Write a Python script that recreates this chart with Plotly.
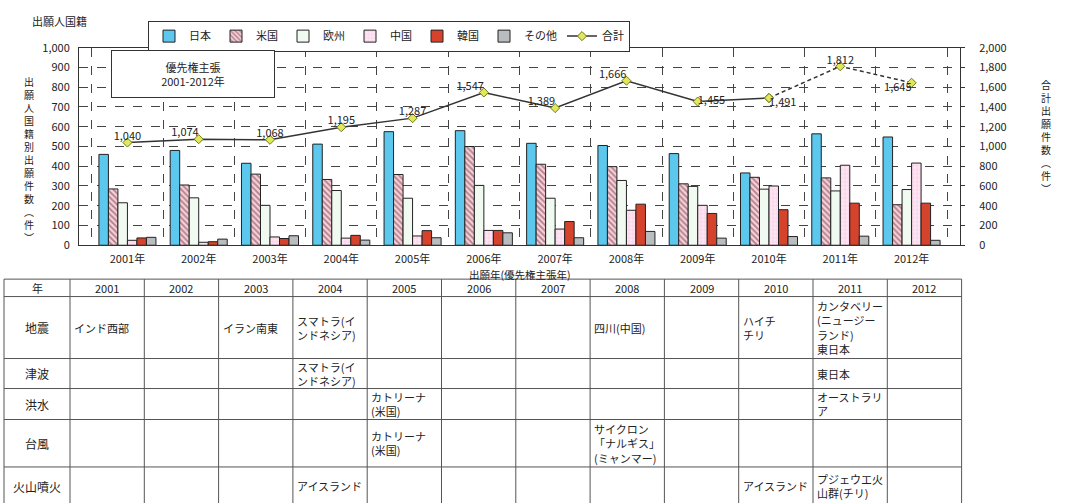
import plotly.graph_objects as go

W, H = 1077, 503
FONT = "Noto Sans CJK JP"

years = ["2001年", "2002年", "2003年", "2004年", "2005年", "2006年",
         "2007年", "2008年", "2009年", "2010年", "2011年", "2012年"]
japan = [460, 480, 415, 512, 575, 580, 516, 505, 464, 366, 564, 548]
usa = [285, 305, 360, 333, 358, 500, 410, 398, 311, 344, 341, 205]
europe = [215, 240, 202, 277, 238, 303, 238, 328, 298, 284, 275, 282]
china = [25, 15, 42, 36, 47, 75, 82, 177, 202, 300, 405, 416]
korea = [37, 18, 34, 50, 74, 75, 120, 208, 161, 180, 213, 213]
other = [40, 31, 48, 26, 38, 63, 38, 70, 36, 44, 46, 25]
total = [1040, 1074, 1068, 1195, 1287, 1547, 1389, 1666, 1455, 1491, 1812, 1645]
total_pos = ["top center", "top left", "top center", "top center", "top center", "top left",
             "top left", "top left", "middle right", "bottom right", "top center", "bottom left"]

table_years = ["2001", "2002", "2003", "2004", "2005", "2006",
               "2007", "2008", "2009", "2010", "2011", "2012"]
table_rows = ["地震", "津波", "洪水", "台風", "火山噴火"]
table_events = {
    "地震": {"2001": "インド西部", "2003": "イラン南東", "2004": "スマトラ(イ<br>ンドネシア)",
             "2008": "四川(中国)", "2010": "ハイチ<br>チリ",
             "2011": "カンタベリー<br>(ニュージー<br>ランド)<br>東日本"},
    "津波": {"2004": "スマトラ(イ<br>ンドネシア)", "2011": "東日本"},
    "洪水": {"2005": "カトリーナ<br>(米国)", "2011": "オーストラリ<br>ア"},
    "台風": {"2005": "カトリーナ<br>(米国)", "2008": "サイクロン<br>「ナルギス」<br>(ミャンマー)"},
    "火山噴火": {"2004": "アイスランド", "2010": "アイスランド", "2011": "プジェウエ火<br>山群(チリ)"},
}

# ---------- layout constants (pixels) ----------
PL, PR, PT, PB = 79, 960, 40, 244
def px(x): return x / W
def py(y): return 1 - y / H

OUT = "#222222"
fig = go.Figure()

bar_specs = [
    ("日本", japan, dict(color="#5cc8ee")),
    ("米国", usa, dict(color="#f2d2da", pattern=dict(shape="\\", fgcolor="#7a2838", bgcolor="#f2d2da", size=4, solidity=0.45))),
    ("欧州", europe, dict(color="#f1faf1")),
    ("中国", china, dict(color="#fde6f3", pattern=dict(shape="+", fgcolor="#f0a6cf", bgcolor="#fde6f3", size=4, solidity=0.25))),
    ("韓国", korea, dict(color="#d5432c")),
    ("その他", other, dict(color="#b9bdc0")),
]
for name, vals, mk in bar_specs:
    mk = dict(mk)
    mk["line"] = dict(color=OUT, width=1)
    fig.add_trace(go.Bar(x=years, y=vals, name=name, marker=mk, yaxis="y"))

LINE_C = "#333333"
MK = dict(symbol="diamond", size=7, color="#e2e85a", line=dict(color="#6b7a20", width=1))
fig.add_trace(go.Scatter(x=years[:10], y=total[:10], name="合計", mode="lines+markers",
                         line=dict(color=LINE_C, width=1.5), marker=MK, yaxis="y2"))
fig.add_trace(go.Scatter(x=years[9:], y=total[9:], name="合計", mode="lines+markers",
                         line=dict(color=LINE_C, width=1.5, dash="4px,3px"), marker=MK,
                         yaxis="y2", showlegend=False))
fig.add_trace(go.Scatter(x=years, y=total, mode="text", text=[f"{v:,}" for v in total],
                         textposition=total_pos, textfont=dict(size=11, color="#222", family=FONT),
                         yaxis="y2", showlegend=False, cliponaxis=False))

grid = dict(showgrid=True, gridcolor="#444444", griddash="dash", gridwidth=1)
fig.update_layout(
    width=W, height=H,
    margin=dict(l=0, r=0, t=0, b=0),
    paper_bgcolor="white", plot_bgcolor="white",
    font=dict(family=FONT, size=11, color="#222"),
    barmode="group", bargap=0.2, bargroupgap=0.0,
    xaxis=dict(domain=[px(PL), px(PR)], type="category", tickson="boundaries", ticks="",
               showline=True, linecolor="#333", mirror=True, tickfont=dict(size=11),
               ticklabelstandoff=4, **grid),
    yaxis=dict(domain=[py(PB), py(PT)], range=[0, 1000], dtick=100, tickformat=",",
               showline=True, linecolor="#333", mirror=True, ticks="", zeroline=False,
               tickfont=dict(size=11), ticklabelstandoff=6, **grid),
    yaxis2=dict(overlaying="y", side="right", range=[0, 2000], dtick=200, tickformat=",",
                showgrid=False, zeroline=False, showline=True, linecolor="#333",
                ticks="outside", ticklen=4, tickcolor="#333", tickfont=dict(size=11),
                ticklabelstandoff=12),
    legend=dict(orientation="h", x=px(148), y=py(12), xanchor="left", yanchor="top",
                bordercolor="#333", borderwidth=1, bgcolor="white",
                font=dict(size=11), itemwidth=30, tracegroupgap=0),
    showlegend=True,
)

ann = []
ann.append(dict(text="出願人国籍", x=px(30), y=py(12), xref="paper", yref="paper",
                xanchor="left", yanchor="middle", showarrow=False, font=dict(size=11)))
ann.append(dict(text="<br>".join(list("出願人国籍別出願件数") + ["︵", "件", "︶"]), x=px(29), y=py(155),
                xref="paper", yref="paper", xanchor="center", yanchor="middle", showarrow=False,
                font=dict(size=10)))
ann.append(dict(text="<br>".join(list("合計出願件数") + ["︵", "件", "︶"]), x=px(1046), y=py(132),
                xref="paper", yref="paper", xanchor="center", yanchor="middle", showarrow=False,
                font=dict(size=10)))
ann.append(dict(text="出願年(優先権主張年)", x=px(520), y=py(274), xref="paper", yref="paper",
                xanchor="center", yanchor="middle", showarrow=False, font=dict(size=10.5)))
ann.append(dict(text="優先権主張<br>2001-2012年", x=px(193), y=py(67), xref="paper", yref="paper",
                xanchor="center", yanchor="middle", showarrow=False, font=dict(size=11),
                bordercolor="#333", borderwidth=1, bgcolor="white", width=160, height=44))

# ---------- table ----------
T_LEFT, FIRST_W, COL_W, T_TOP = 4, 66, 74.3, 279
ROW_H = [18, 64, 31, 32, 49, 40]
col_edges = [T_LEFT, T_LEFT + FIRST_W] + [T_LEFT + FIRST_W + COL_W * (i + 1) for i in range(len(table_years))]
row_edges = [T_TOP]
for h in ROW_H:
    row_edges.append(row_edges[-1] + h)

shapes = []
for xe in col_edges:
    shapes.append(dict(type="line", xref="paper", yref="paper", x0=px(xe), x1=px(xe),
                       y0=py(T_TOP), y1=py(row_edges[-1]), line=dict(color="#555", width=1)))
for ye in row_edges[:-1]:
    shapes.append(dict(type="line", xref="paper", yref="paper", x0=px(col_edges[0]), x1=px(col_edges[-1]),
                       y0=py(ye), y1=py(ye), line=dict(color="#555", width=1)))

def cell_center_y(r):
    return (row_edges[r] + row_edges[r + 1]) / 2

ann.append(dict(text="年", x=px((col_edges[0] + col_edges[1]) / 2), y=py(cell_center_y(0)),
                xref="paper", yref="paper", showarrow=False, xanchor="center", yanchor="middle"))
for i, yr in enumerate(table_years):
    ann.append(dict(text=yr, x=px((col_edges[i + 1] + col_edges[i + 2]) / 2), y=py(cell_center_y(0)),
                    xref="paper", yref="paper", showarrow=False, xanchor="center", yanchor="middle"))
for r, rname in enumerate(table_rows):
    ann.append(dict(text=rname, x=px((col_edges[0] + col_edges[1]) / 2), y=py(cell_center_y(r + 1)),
                    xref="paper", yref="paper", showarrow=False, xanchor="center", yanchor="middle",
                    font=dict(size=12)))
    for i, yr in enumerate(table_years):
        t = table_events[rname].get(yr)
        if t:
            ann.append(dict(text=t, x=px(col_edges[i + 1] + 2), y=py(cell_center_y(r + 1)),
                            xref="paper", yref="paper", showarrow=False, xanchor="left",
                            yanchor="middle", align="left"))

fig.update_layout(annotations=ann, shapes=shapes)
fig.write_html("out.html")
